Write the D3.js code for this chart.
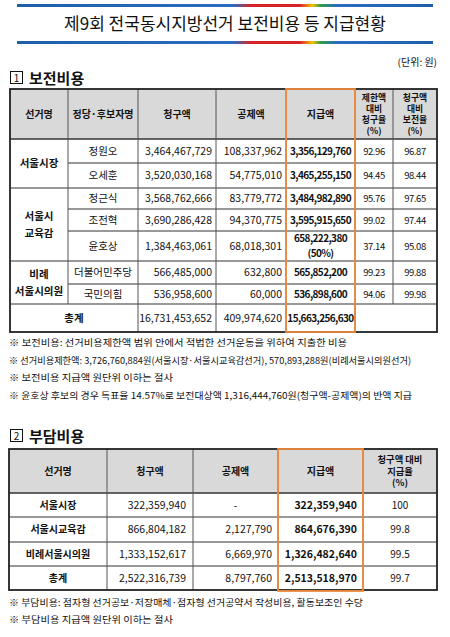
<!DOCTYPE html><html><head><meta charset="utf-8">
<script src="https://cdn.jsdelivr.net/npm/d3@7"></script>
<style>body{margin:0;background:#fff}text{font-family:"Noto Sans CJK KR",sans-serif;fill:#111}</style></head><body>
<svg id="c" width="450" height="637"></svg>
<script>
const title="제9회 전국동시지방선거 보전비용 등 지급현황";
const unit="(단위: 원)";
const sec1="보전비용", sec2="부담비용";
const head1=[["선거명"],["정당·후보자명"],["청구액"],["공제액"],["지급액"],["제한액","대비","청구율","(%)"],["청구액","대비","보전율","(%)"]];
const groups1=[["서울시장"],["서울시","교육감"],["비례","서울시의원"]];
const groupSpan=[2,3,2];
const names1=["정원오","오세훈","정근식","조전혁","윤호상","더불어민주당","국민의힘"];
const claim1=["3,464,467,729","3,520,030,168","3,568,762,666","3,690,286,428","1,384,463,061","566,485,000","536,958,600"];
const deduct1=["108,337,962","54,775,010","83,779,772","94,370,775","68,018,301","632,800","60,000"];
const paid1=["3,356,129,760","3,465,255,150","3,484,982,890","3,595,915,650","658,222,380\n(50%)","565,852,200","536,898,600"];
const rateA=["92.96","94.45","95.76","99.02","37.14","99.23","94.06"];
const rateB=["96.87","98.44","97.65","97.44","95.08","99.88","99.98"];
const total1=["총계","16,731,453,652","409,974,620","15,663,256,630"];
const notes1=["※ 보전비용: 선거비용제한액 범위 안에서 적법한 선거운동을 위하여 지출한 비용",
"※ 선거비용제한액: 3,726,760,884원(서울시장·서울시교육감선거), 570,893,288원(비례서울시의원선거)",
"※ 보전비용 지급액 원단위 이하는 절사",
"※ 윤호상 후보의 경우 득표율 14.57%로 보전대상액 1,316,444,760원(청구액-공제액)의 반액 지급"];
const notes1W=[338,402,164,403];
const head2=[["선거명"],["청구액"],["공제액"],["지급액"],["청구액 대비","지급율","(%)"]];
const names2=["서울시장","서울시교육감","비례서울시의원","총계"];
const claim2=["322,359,940","866,804,182","1,333,152,617","2,522,316,739"];
const deduct2=["-","2,127,790","6,669,970","8,797,760"];
const paid2=["322,359,940","864,676,390","1,326,482,640","2,513,518,970"];
const rate2=["100","99.8","99.5","99.7"];
const notes2=["※ 부담비용: 점자형 선거공보·저장매체·점자형 선거공약서 작성비용, 활동보조인 수당","※ 부담비용 지급액 원단위 이하는 절사"];
const notes2W=[354,164];

const svg=d3.select("#c");
const defs=svg.append("defs");
const g=defs.append("linearGradient").attr("id","bar");
[[0,"#1f5fa8"],[0.52,"#2a6cc0"],[0.56,"#d8232a"],[0.68,"#d8232a"],[0.71,"#f2c400"],[0.73,"#2e9e4f"],[0.77,"#2a6cc0"],[1,"#1f5fa8"]].forEach(([o,c])=>g.append("stop").attr("offset",o).attr("stop-color",c));
[4,41].forEach(y=>svg.append("rect").attr("x",17).attr("y",y).attr("width",416).attr("height",3).attr("fill","url(#bar)"));
svg.append("text").attr("x",225).attr("y",30).attr("text-anchor","middle").attr("font-size",17).text(title);
svg.append("text").attr("x",437).attr("y",66).attr("text-anchor","end").attr("font-size",10).text(unit);
function secHead(y,n,t){svg.append("rect").attr("x",10.5).attr("y",y-12.5).attr("width",12).attr("height",12).attr("fill","none").attr("stroke","#111");
svg.append("text").attr("x",16.5).attr("y",y-2.5).attr("text-anchor","middle").attr("font-size",10).text(n);
svg.append("text").attr("x",29).attr("y",y).attr("font-size",15).attr("font-weight","bold").text(t);}
secHead(84,"1",sec1);secHead(442,"2",sec2);

function lines(x,yc,arr,opt={}){const lh=opt.lh||12;const t=svg.append("text").attr("x",x).attr("text-anchor",opt.anchor||"middle").attr("font-size",opt.fs||10).attr("font-weight",opt.bold?"bold":null).attr("letter-spacing",opt.ls||null);
arr.forEach((s,i)=>t.append("tspan").attr("x",x).attr("y",yc+(i-(arr.length-1)/2)*lh+3.5).text(s));}
function hline(x1,x2,y,w=1,c="#333"){svg.append("line").attr("x1",x1).attr("x2",x2).attr("y1",y).attr("y2",y).attr("stroke",c).attr("stroke-width",w);}
function vline(x,y1,y2,w=1,c="#333"){svg.append("line").attr("x1",x).attr("x2",x).attr("y1",y1).attr("y2",y2).attr("stroke",c).attr("stroke-width",w);}

const cx1=[10,68,138,216,286,355,393,437];
const rowY=[139,163,188,209,231,261,284,304,332];
const top1=89;
svg.append("rect").attr("x",cx1[0]).attr("y",top1).attr("width",cx1[7]-cx1[0]).attr("height",rowY[0]-top1).attr("fill","#d9d9d9");
head1.forEach((h,i)=>lines((cx1[i]+cx1[i+1])/2,(top1+rowY[0])/2,h,{bold:true,fs:h.length>1?8.8:10,lh:11.2}));
names1.forEach((n,i)=>{const yc=(rowY[i]+rowY[i+1])/2;
 lines((cx1[1]+cx1[2])/2,yc,[n],{fs:10.5});
 lines(cx1[3]-4,yc,[claim1[i]],{anchor:"end",fs:10.5});
 lines(cx1[4]-4,yc,[deduct1[i]],{anchor:"end",fs:10.5});
 lines((cx1[4]+cx1[5])/2,yc,paid1[i].split("\n"),{bold:true,fs:10,ls:-0.6,lh:15});
 lines((cx1[5]+cx1[6])/2,yc,[rateA[i]],{fs:9.5,ls:-0.4});
 lines((cx1[6]+cx1[7])/2,yc,[rateB[i]],{fs:9.5,ls:-0.4});
});
let r=0;groups1.forEach((gname,i)=>{const a=rowY[r],b=rowY[r+groupSpan[i]];lines((cx1[0]+cx1[1])/2,(a+b)/2,gname,{bold:true,fs:10.5,lh:17});r+=groupSpan[i];
 if(r<names1.length)hline(cx1[0],cx1[1],rowY[r]);});
const yt=(rowY[7]+rowY[8])/2;
lines((cx1[0]+cx1[2])/2,yt,[total1[0]],{bold:true,fs:10.5});
lines(cx1[3]-4,yt,[total1[1]],{anchor:"end",fs:10.5});
lines(cx1[4]-4,yt,[total1[2]],{anchor:"end",fs:10.5});
lines((cx1[4]+cx1[5])/2,yt,[total1[3]],{bold:true,fs:10,ls:-0.6});
for(let i=1;i<8;i++)hline(i===7?cx1[0]:cx1[1],cx1[7],rowY[i]);
hline(cx1[0],cx1[7],rowY[0],1.5);
[1,2,3,4,5,6].forEach(i=>vline(cx1[i],top1,i===1?rowY[7]:(i===6?rowY[7]:rowY[8]),1,"#555"));
svg.append("rect").attr("x",cx1[0]).attr("y",top1).attr("width",cx1[7]-cx1[0]).attr("height",rowY[8]-top1).attr("fill","none").attr("stroke","#222").attr("stroke-width",1.8);
svg.append("rect").attr("x",cx1[4]).attr("y",top1).attr("width",cx1[5]-cx1[4]).attr("height",rowY[8]-top1).attr("fill","none").attr("stroke","#ef8a3c").attr("stroke-width",1.8);
notes1.forEach((t,i)=>svg.append("text").attr("x",9).attr("y",346+i*17.5).attr("font-size",9.3).attr("textLength",notes1W[i]).attr("lengthAdjust","spacingAndGlyphs").text(t));

const cx2=[9,107,193,278,363,437];
const rowY2=[493,517,542,566,590];const top2=449;
svg.append("rect").attr("x",cx2[0]).attr("y",top2).attr("width",cx2[5]-cx2[0]).attr("height",rowY2[0]-top2).attr("fill","#d9d9d9");
head2.forEach((h,i)=>lines((cx2[i]+cx2[i+1])/2,(top2+rowY2[0])/2,h,{bold:true,fs:h.length>1?9.3:10,lh:11.5}));
names2.forEach((n,i)=>{const yc=(rowY2[i]+rowY2[i+1])/2;
 lines((cx2[0]+cx2[1])/2,yc,[n],{bold:true,fs:10});
 lines(cx2[2]-7,yc,[claim2[i]],{anchor:"end",fs:10.5});
 lines(deduct2[i]==="-"?(cx2[2]+cx2[3])/2:cx2[3]-6,yc,[deduct2[i]],{anchor:deduct2[i]==="-"?"middle":"end",fs:10.5});
 lines(cx2[4]-6,yc,[paid2[i]],{anchor:"end",bold:true,fs:10.5});
 lines((cx2[4]+cx2[5])/2,yc,[rate2[i]],{fs:10});});
for(let i=1;i<4;i++)hline(cx2[0],cx2[5],rowY2[i]);
hline(cx2[0],cx2[5],rowY2[0],1.5);
[1,2,3,4].forEach(i=>vline(cx2[i],top2,rowY2[4],1,"#555"));
svg.append("rect").attr("x",cx2[0]).attr("y",top2).attr("width",cx2[5]-cx2[0]).attr("height",rowY2[4]-top2).attr("fill","none").attr("stroke","#222").attr("stroke-width",1.8);
svg.append("rect").attr("x",cx2[3]).attr("y",top2).attr("width",cx2[4]-cx2[3]).attr("height",rowY2[4]-top2+1).attr("fill","none").attr("stroke","#ef8a3c").attr("stroke-width",1.8);
notes2.forEach((t,i)=>svg.append("text").attr("x",9).attr("y",606+i*17).attr("font-size",9.3).attr("textLength",notes2W[i]).attr("lengthAdjust","spacingAndGlyphs").text(t));
</script></body></html>
